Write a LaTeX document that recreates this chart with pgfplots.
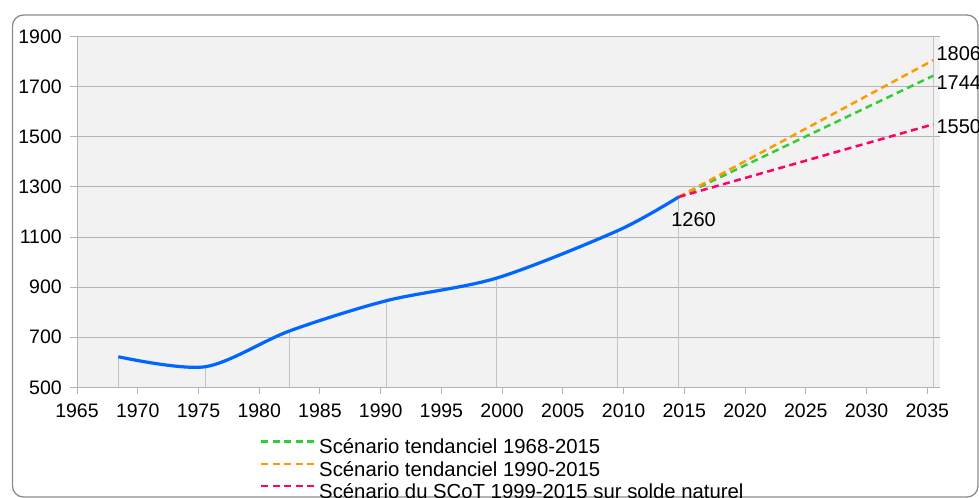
\documentclass[border=0pt]{standalone}
\usepackage{pgfplots}
\pgfplotsset{compat=1.18}
\usepackage{fontspec}
\setmainfont{Liberation Sans}
\definecolor{bluel}{RGB}{0,102,255}
\definecolor{greenl}{RGB}{51,204,51}
\definecolor{orangel}{RGB}{255,153,0}
\definecolor{redl}{RGB}{255,0,102}
\definecolor{gridc}{RGB}{179,179,179}
\definecolor{bgc}{RGB}{242,242,242}
\definecolor{framec}{RGB}{140,140,140}
\definecolor{dropc}{RGB}{195,195,195}

\pgfplotstableread{
x y
1968.4 622
1975.55 582
1982.5 725
1990.5 846
1999.55 936
2009.5 1125
2014.54 1260
}\pop

\begin{document}
\begin{tikzpicture}
\useasboundingbox (0,0) rectangle (979bp,498bp);
\draw[framec, line width=1.3bp, rounded corners=11bp] (12.5bp,1bp) rectangle (978bp,483bp);
\begin{axis}[
  at={(77bp,110.7bp)}, anchor=south west,
  scale only axis, width=863bp, height=350.7bp,
  xmin=1965, xmax=2036.05, ymin=500, ymax=1900,
  clip mode=individual,
  axis background/.style={fill=bgc},
  axis x line*=bottom, axis y line*=left,
  axis line style={gridc, line width=0.9bp, -},
  xtick={1965,1970,...,2035}, ytick={500,700,...,1900},
  ymajorgrids, major grid style={gridc, line width=0.9bp},
  tick align=outside, major tick length=6.7bp,
  tick style={gridc, line width=0.9bp},
  /pgf/number format/assume math mode=true,
  /pgf/number format/1000 sep={},
  tick label style={font=\fontsize{19.5bp}{23bp}\selectfont},
  xticklabel style={yshift=-6bp},
  yticklabel style={xshift=-5bp},
  legend cell align=left,
  legend image code/.code={\draw[#1] (0bp,7bp) -- (54bp,7bp);},
  legend style={at={(0.2121,-0.1423)}, anchor=north west, draw=none, fill=none,
    inner sep=0pt, row sep=0pt,
    font=\fontsize{20.3bp}{22.3bp}\selectfont,
    nodes={inner xsep=0pt, inner ysep=2bp, text height=14.5bp, text depth=3.8bp},
    /tikz/every odd column/.append style={column sep=2.5bp}},
]
\addplot[dropc, line width=0.8bp, ycomb, forget plot] table[x=x,y=y] {\pop};
\addplot[dropc, line width=0.8bp, ycomb, forget plot] coordinates {(2035.5,1900)};
\addplot[bluel, line width=3.2bp, smooth, tension=0.5, forget plot] table[x=x,y=y] {\pop};
\addplot[greenl, line width=2.5bp, dash pattern=on 7bp off 4.5bp] coordinates {(2014.54,1260) (2035.5,1744)};
\addlegendentry{Scénario tendanciel 1968-2015}
\addplot[orangel, line width=2.5bp, dash pattern=on 7bp off 4.5bp] coordinates {(2014.54,1260) (2035.5,1806)};
\addlegendentry{Scénario tendanciel 1990-2015}
\addplot[redl, line width=2.5bp, dash pattern=on 7bp off 4.5bp] coordinates {(2014.54,1260) (2035.5,1550)};
\addlegendentry{Scénario du SCoT 1999-2015 sur solde naturel}
\node[anchor=west, inner sep=0pt, font=\fontsize{20bp}{22bp}\selectfont] at (axis cs:2035.75,1834) {1806};
\node[anchor=west, inner sep=0pt, font=\fontsize{20bp}{22bp}\selectfont] at (axis cs:2035.75,1715) {1744};
\node[anchor=west, inner sep=0pt, font=\fontsize{20bp}{22bp}\selectfont] at (axis cs:2035.75,1540) {1550};
\node[anchor=center, inner sep=0pt, font=\fontsize{20bp}{22bp}\selectfont] at (axis cs:2015.76,1168) {1260};
\end{axis}
\end{tikzpicture}
\end{document}
